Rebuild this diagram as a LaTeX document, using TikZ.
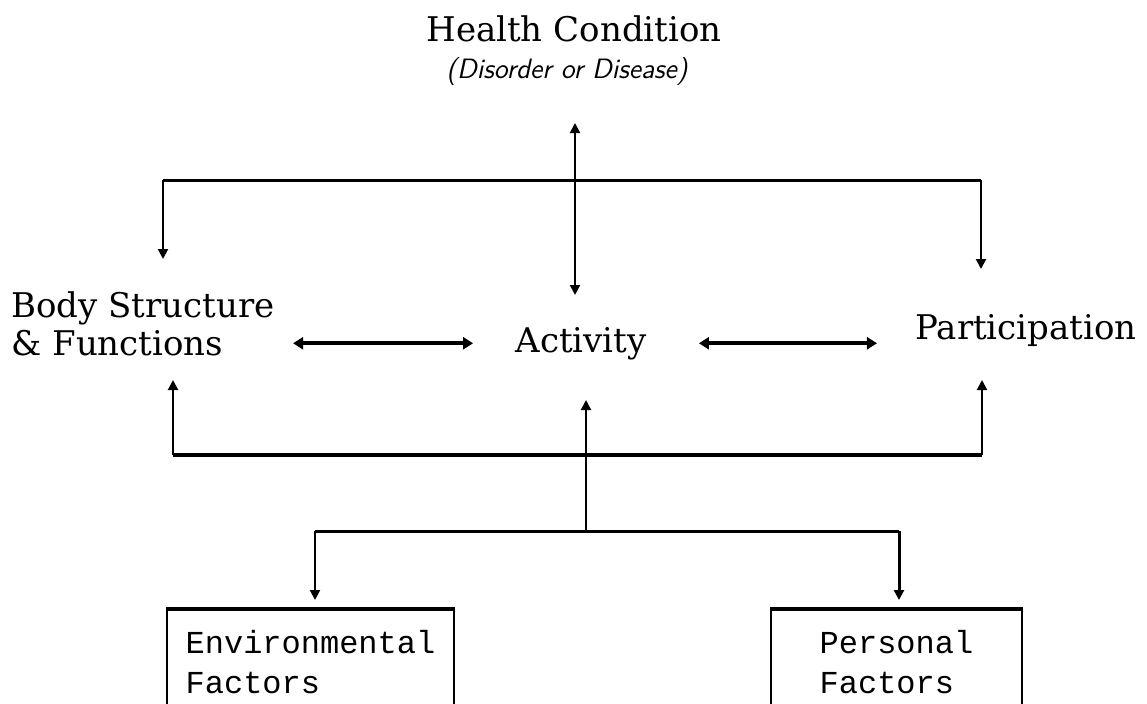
\documentclass[tikz,border=0pt]{standalone}
\usepackage{fontspec}
\newfontfamily\boxfont{Liberation Mono}
\newfontfamily\slabfont{DejaVu Serif}
\usetikzlibrary{arrows.meta}

\tikzset{
  label/.style={font=\slabfont\fontsize{17}{19}\selectfont, inner sep=0pt},
  link/.style={-{Triangle[length=5pt,width=5pt]}, line width=1pt},
  twoway/.style={{Triangle[length=5pt,width=6pt]}-{Triangle[length=5pt,width=6pt]}, line width=2pt},
  factor/.style={draw, line width=1pt, align=left, inner ysep=10pt,
    font=\boxfont\fontsize{16}{20}\selectfont}
}

\begin{document}
\begin{tikzpicture}[x=0.5pt, y=-0.5pt]
  \useasboundingbox (0,0) rectangle (1147,703);
  \clip (0,0) rectangle (1147,703);

  % labels
  \node[label, anchor=base] (health) at (574,41) {Health Condition};
  \node[inner sep=0pt, anchor=base, font=\sffamily\itshape\fontsize{14}{16}\selectfont]
    (cause) at (567,78) {(Disorder or Disease)};
  \node[label, anchor=north west, align=left] (body) at (11,291)
    {Body Structure\\\& Functions};
  \node[label, anchor=base] (act) at (581,352) {Activity};
  \node[label, anchor=base] (part) at (1026,339) {Participation};

  \node[factor, anchor=north west, minimum width=143.5pt] (env) at (166,609)
    {Environmental\\Factors};
  \node[factor, anchor=north west, minimum width=125.5pt] (pers) at (770,609)
    {Personal\\Factors};
  \draw[line width=2pt] (env.north west) -- (env.north east);
  \draw[line width=2pt] (pers.north west) -- (pers.north east);

  % health condition <-> activity, and the bracket on top
  \coordinate (hcTop) at (575,123);
  \coordinate (hcBot) at (575,295);
  \coordinate (topL) at (163,180);
  \coordinate (topR) at (981,180);
  \coordinate (bsIn) at (163,259);
  \coordinate (paIn) at (981,269);
  \draw[{Triangle[length=5pt,width=5pt]}-{Triangle[length=5pt,width=5pt]}, line width=1pt]
    (hcTop) -- (hcBot);
  \draw[line width=1.5pt] (topL) -- (topR);
  \draw[link] (topL) -- (bsIn);
  \draw[link] (topR) -- (paIn);

  % the three components
  \draw[twoway, shorten <=9pt, shorten >=21pt] (body.east |- act) -- (act.west);
  \draw[twoway, shorten <=26pt, shorten >=19pt] (act.east) -- (part.west |- act);

  % contextual factors
  \coordinate (botL) at (173,455);
  \coordinate (botR) at (982,455);
  \coordinate (bsUp) at (173,380);
  \coordinate (paUp) at (982,380);
  \coordinate (actUp) at (586,400);
  \coordinate (split) at (586,531);
  \coordinate (envL) at (315,531);
  \coordinate (persR) at (899,531);
  \draw[line width=2pt] (botL) -- (botR);
  \draw[link] (botL) -- (bsUp);
  \draw[link] (botR) -- (paUp);
  \draw[link] (split) -- (actUp);
  \draw[line width=1.5pt] (envL) -- (persR);
  \draw[link, shorten >=4.5pt] (envL) -- (envL |- env.north);
  \draw[link, line width=1.5pt, shorten >=4.5pt] (persR) -- (persR |- pers.north);
\end{tikzpicture}
\end{document}
